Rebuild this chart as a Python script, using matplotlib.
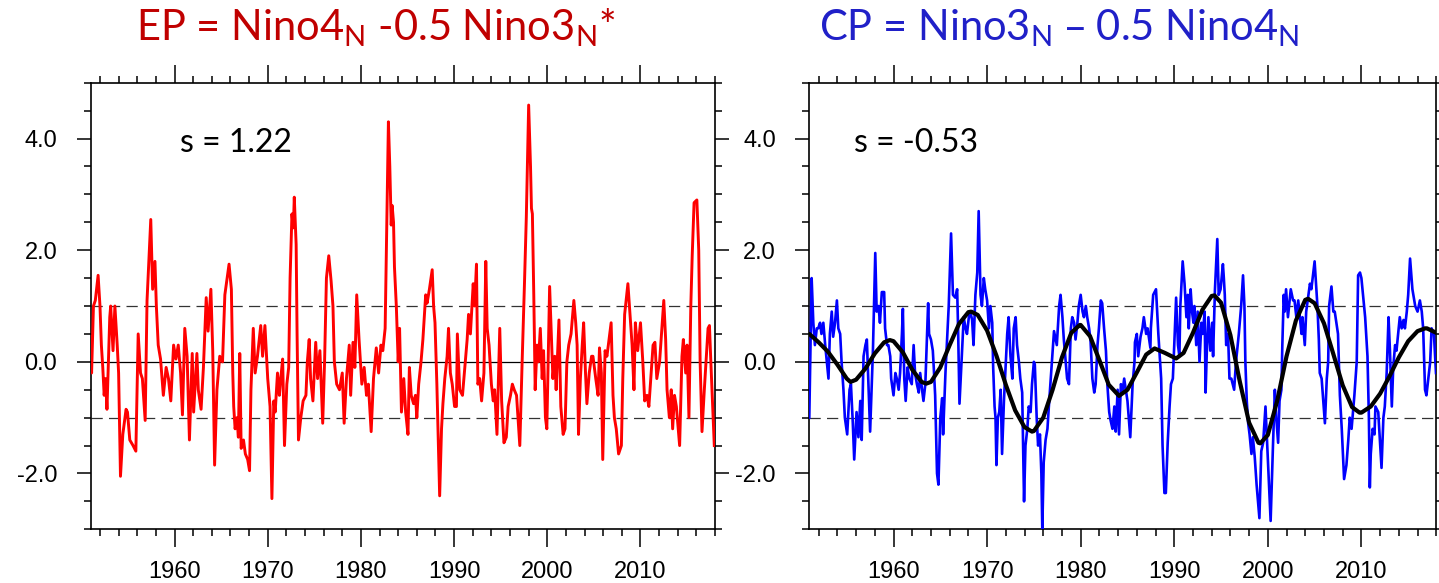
import matplotlib
matplotlib.use("Agg")
import matplotlib.pyplot as plt
from matplotlib.ticker import MultipleLocator, FormatStrFormatter

# ---------------------------------------------
# Datos (anio decimal, valor)
# ---------------------------------------------
ep_year = [
    1951.00, 1951.10, 1951.30, 1951.50, 1951.80, 1952.00, 1952.15, 1952.30, 1952.45, 1952.60,
    1952.75, 1953.05, 1953.15, 1953.40, 1953.60, 1953.85, 1954.00, 1954.20, 1954.45, 1954.80,
    1954.95, 1955.20, 1955.55, 1955.85, 1956.10, 1956.35, 1956.55, 1956.85, 1957.05, 1957.45,
    1957.65, 1957.90, 1958.05, 1958.25, 1958.50, 1958.80, 1959.10, 1959.35, 1959.60, 1959.90,
    1960.15, 1960.40, 1960.65, 1960.85, 1961.10, 1961.35, 1961.60, 1961.90, 1962.05, 1962.40,
    1962.55, 1962.85, 1963.10, 1963.40, 1963.60, 1963.90, 1964.10, 1964.30, 1964.55, 1964.85,
    1965.15, 1965.40, 1965.65, 1965.85, 1966.10, 1966.25, 1966.35, 1966.50, 1966.70, 1966.85,
    1967.00, 1967.15, 1967.40, 1967.60, 1967.85, 1968.05, 1968.20, 1968.45, 1968.65, 1968.90,
    1969.25, 1969.45, 1969.70, 1970.00, 1970.25, 1970.45, 1970.65, 1970.80, 1971.05, 1971.25,
    1971.40, 1971.60, 1971.80, 1972.05, 1972.25, 1972.40, 1972.60, 1972.75, 1972.85, 1973.05,
    1973.15, 1973.30, 1973.55, 1973.80, 1974.10, 1974.25, 1974.45, 1974.60, 1974.85, 1975.15,
    1975.35, 1975.60, 1975.90, 1976.10, 1976.30, 1976.55, 1976.80, 1977.00, 1977.15, 1977.40,
    1977.70, 1978.00, 1978.20, 1978.45, 1978.75, 1978.90, 1979.15, 1979.35, 1979.55, 1979.80,
    1980.10, 1980.35, 1980.60, 1980.80, 1981.10, 1981.35, 1981.65, 1981.90, 1982.15, 1982.35,
    1982.60, 1982.95, 1983.10, 1983.25, 1983.35, 1983.50, 1983.60, 1983.80, 1984.00, 1984.15,
    1984.35, 1984.60, 1984.80, 1985.05, 1985.20, 1985.40, 1985.65, 1985.85, 1986.00, 1986.20,
    1986.45, 1986.65, 1986.95, 1987.10, 1987.35, 1987.65, 1987.80, 1987.95, 1988.15, 1988.45,
    1988.65, 1988.80, 1989.00, 1989.25, 1989.40, 1989.60, 1989.80, 1990.05, 1990.25, 1990.35,
    1990.60, 1990.90, 1991.15, 1991.40, 1991.55, 1991.75, 1992.05, 1992.20, 1992.40, 1992.55,
    1992.75, 1992.95, 1993.20, 1993.40, 1993.55, 1993.75, 1994.00, 1994.20, 1994.35, 1994.60,
    1994.80, 1994.90, 1995.10, 1995.35, 1995.60, 1995.80, 1996.05, 1996.25, 1996.45, 1996.70,
    1996.90, 1997.05, 1997.30, 1997.55, 1997.75, 1998.00, 1998.20, 1998.30, 1998.40, 1998.55,
    1998.70, 1998.90, 1999.05, 1999.25, 1999.45, 1999.60, 1999.80, 1999.95, 2000.25, 2000.45,
    2000.60, 2000.80, 2000.95, 2001.25, 2001.45, 2001.70, 2001.90, 2002.10, 2002.30, 2002.55,
    2002.85, 2003.05, 2003.20, 2003.35, 2003.55, 2003.75, 2003.90, 2004.10, 2004.25, 2004.50,
    2004.75, 2004.90, 2005.20, 2005.45, 2005.60, 2005.80, 2005.95, 2006.20, 2006.40, 2006.70,
    2006.85, 2007.05, 2007.20, 2007.40, 2007.65, 2007.95, 2008.10, 2008.30, 2008.65, 2008.90,
    2009.10, 2009.30, 2009.45, 2009.70, 2010.00, 2010.25, 2010.45, 2010.70, 2010.90, 2011.15,
    2011.35, 2011.55, 2011.75, 2012.05, 2012.25, 2012.50, 2012.70, 2012.85, 2013.10, 2013.30,
    2013.45, 2013.65, 2013.85, 2014.20, 2014.45, 2014.60, 2014.85, 2015.00, 2015.20, 2015.40,
    2015.55, 2015.75, 2016.05, 2016.25, 2016.40, 2016.60, 2016.85, 2017.10, 2017.25, 2017.40,
    2017.55, 2017.75, 2017.92,
]
ep_val = [
    0.45, -0.2, 1.0, 1.1, 1.55, 1.0, 0.3, -0.1, -0.6, -0.3,
    -0.85, 0.8, 1.0, 0.2, 1.0, 0.3, -0.2, -2.05, -1.3, -0.85,
    -0.9, -1.4, -1.5, -1.6, 0.5, -0.2, -0.3, -1.05, 1.1, 2.55,
    1.3, 1.8, 1.0, 0.3, 0.05, -0.6, -0.1, -0.3, -0.7, 0.3,
    0.05, 0.3, -0.2, -0.95, 0.6, 0.1, -1.4, 0.15, -0.9, 0.15,
    -0.5, -0.85, -0.1, 1.15, 0.55, 1.3, 0.2, -1.85, -0.5, 0.1,
    0.0, 1.2, 1.5, 1.75, 1.3, -0.2, -0.8, -1.2, -1.0, -1.35,
    0.15, -1.55, -1.4, -1.65, -1.75, -1.95, -0.5, 0.6, -0.2, 0.1,
    0.65, 0.1, 0.65, -0.3, -0.8, -2.45, -0.7, -0.9, -0.2, -0.6,
    -0.3, 0.05, -1.5, -0.4, -0.1, 1.5, 2.65, 2.4, 2.95, 2.1,
    0.5, -1.4, -1.0, -0.7, -0.6, 0.0, 0.4, -0.3, -0.7, 0.35,
    -0.3, 0.2, -1.1, 0.0, 1.5, 1.9, 1.45, 1.0, 0.0, -0.4,
    -0.5, -0.2, -1.1, -0.3, 0.3, -0.6, 0.35, -0.1, 1.2, 0.4,
    -0.4, -0.1, -0.6, -0.4, -1.25, -0.3, 0.25, -0.2, 0.3, 0.2,
    0.6, 4.3, 3.5, 2.45, 2.8, 2.5, 1.7, 1.0, 0.0, 0.6,
    -0.9, -0.3, -0.9, -1.3, -0.1, -0.6, -0.75, -0.6, -1.0, -0.4,
    0.0, 0.4, 1.2, 1.05, 1.3, 1.65, 1.0, 0.7, -0.4, -2.4,
    -1.2, -0.75, -0.3, 0.1, 0.6, -0.2, -0.4, -0.8, -0.8, 0.5,
    -0.5, -0.6, -0.1, 0.4, 0.85, 0.5, 1.4, 1.0, 1.75, -0.4,
    -0.3, -0.7, -0.2, 1.8, 0.6, 0.3, -0.4, -0.7, -0.5, -1.3,
    0.0, 0.6, -0.7, -1.45, -1.35, -0.8, -0.6, -0.4, -0.5, -0.6,
    -1.1, -1.5, 0.0, 1.4, 2.6, 4.6, 3.5, 2.75, 2.65, 1.2,
    -0.5, 0.3, 0.0, 0.6, -0.3, 0.2, -1.0, -1.2, 1.35, 0.4,
    -0.3, 0.1, -0.5, 0.75, -0.8, -1.3, -1.2, 0.0, 0.3, 0.5,
    1.1, 0.7, 0.3, -1.3, -0.3, 0.3, 0.7, -0.2, -0.75, -0.2,
    0.1, 0.1, -0.3, -0.6, 0.25, -0.2, -1.75, 0.2, 0.1, 0.5,
    0.7, -0.6, -1.0, -1.2, -1.65, -1.5, -0.3, 0.85, 1.4, 0.8,
    0.3, -0.5, 0.7, 0.2, 0.7, 0.0, -0.7, -0.6, -0.8, -0.2,
    0.3, 0.35, -0.3, 0.0, 0.5, 1.1, 0.4, -0.5, -1.0, -0.5,
    -1.2, -0.6, -0.8, -1.5, 0.1, 0.4, -0.2, 0.3, -1.0, 1.0,
    1.9, 2.85, 2.9, 2.0, 0.0, -1.25, -0.5, 0.2, 0.6, 0.65,
    0.0, -0.8, -1.5,
]

cp_year = [
    1951.00, 1951.25, 1951.43, 1951.60, 1951.80, 1951.95, 1952.15, 1952.30, 1952.50, 1952.70,
    1952.85, 1953.05, 1953.20, 1953.40, 1953.55, 1953.75, 1953.95, 1954.10, 1954.30, 1954.45,
    1954.65, 1954.80, 1955.05, 1955.30, 1955.45, 1955.65, 1955.80, 1956.05, 1956.25, 1956.45,
    1956.60, 1956.80, 1957.00, 1957.15, 1957.30, 1957.50, 1957.80, 1958.05, 1958.20, 1958.40,
    1958.55, 1958.75, 1959.00, 1959.10, 1959.30, 1959.45, 1959.65, 1959.75, 1960.00, 1960.20,
    1960.35, 1960.55, 1960.70, 1960.90, 1961.00, 1961.15, 1961.30, 1961.50, 1961.70, 1961.95,
    1962.15, 1962.30, 1962.50, 1962.70, 1962.85, 1963.05, 1963.20, 1963.40, 1963.55, 1963.70,
    1963.80, 1964.00, 1964.20, 1964.30, 1964.45, 1964.65, 1964.80, 1965.00, 1965.20, 1965.30,
    1965.55, 1965.70, 1965.90, 1966.15, 1966.35, 1966.60, 1966.80, 1966.90, 1967.05, 1967.30,
    1967.50, 1967.70, 1967.85, 1968.05, 1968.20, 1968.40, 1968.55, 1968.75, 1968.95, 1969.10,
    1969.30, 1969.45, 1969.65, 1969.80, 1970.00, 1970.20, 1970.35, 1970.55, 1970.65, 1970.80,
    1970.90, 1971.00, 1971.15, 1971.30, 1971.45, 1971.60, 1971.80, 1971.95, 1972.15, 1972.30,
    1972.50, 1972.70, 1972.85, 1973.05, 1973.20, 1973.40, 1973.55, 1973.75, 1973.95, 1974.10,
    1974.30, 1974.45, 1974.65, 1974.80, 1975.00, 1975.10, 1975.30, 1975.45, 1975.65, 1975.80,
    1975.90, 1976.05, 1976.25, 1976.45, 1976.60, 1976.80, 1976.95, 1977.15, 1977.45, 1977.70,
    1977.85, 1978.05, 1978.20, 1978.40, 1978.55, 1978.75, 1978.95, 1979.10, 1979.30, 1979.45,
    1979.65, 1979.80, 1980.00, 1980.20, 1980.35, 1980.55, 1980.70, 1980.90, 1981.05, 1981.25,
    1981.45, 1981.60, 1981.80, 1981.95, 1982.15, 1982.30, 1982.50, 1982.70, 1982.85, 1983.05,
    1983.20, 1983.40, 1983.60, 1983.75, 1983.95, 1984.10, 1984.30, 1984.50, 1984.65, 1985.00,
    1985.30, 1985.55, 1985.75, 1985.80, 1986.00, 1986.15, 1986.40, 1986.60, 1986.75, 1987.00,
    1987.15, 1987.45, 1987.50, 1987.75, 1988.05, 1988.30, 1988.60, 1988.75, 1988.95, 1989.10,
    1989.30, 1989.50, 1989.65, 1989.85, 1990.00, 1990.20, 1990.40, 1990.55, 1990.65, 1990.90,
    1991.10, 1991.30, 1991.45, 1991.55, 1991.75, 1991.90, 1992.05, 1992.15, 1992.35, 1992.50,
    1992.70, 1992.90, 1993.05, 1993.25, 1993.35, 1993.50, 1993.65, 1993.85, 1994.05, 1994.15,
    1994.35, 1994.60, 1994.75, 1994.95, 1995.20, 1995.30, 1995.40, 1995.55, 1995.75, 1995.90,
    1996.10, 1996.40, 1996.60, 1996.90, 1997.15, 1997.35, 1997.50, 1997.60, 1997.75, 1997.90,
    1998.05, 1998.25, 1998.40, 1998.60, 1998.80, 1999.10, 1999.30, 1999.50, 1999.75, 1999.95,
    2000.30, 2000.55, 2000.75, 2000.90, 2001.10, 2001.25, 2001.45, 2001.55, 2001.70, 2001.80,
    2001.95, 2002.15, 2002.45, 2002.70, 2002.85, 2003.05, 2003.25, 2003.60, 2003.70, 2003.95,
    2004.10, 2004.50, 2004.65, 2005.00, 2005.30, 2005.45, 2005.55, 2005.75, 2006.10, 2006.30,
    2006.45, 2006.55, 2006.80, 2007.00, 2007.15, 2007.50, 2007.70, 2007.90, 2008.15, 2008.40,
    2008.60, 2008.75, 2008.95, 2009.25, 2009.50, 2009.65, 2009.85, 2010.00, 2010.40, 2010.65,
    2010.80, 2010.90, 2011.00, 2011.20, 2011.40, 2011.50, 2011.80, 2012.15, 2012.35, 2012.50,
    2012.70, 2012.90, 2013.05, 2013.25, 2013.40, 2013.60, 2013.75, 2014.10, 2014.30, 2014.50,
    2014.65, 2014.85, 2015.00, 2015.20, 2015.45, 2015.75, 2016.00, 2016.25, 2016.45, 2016.60,
    2016.80, 2016.95, 2017.15, 2017.35, 2017.50, 2017.75, 2017.97,
]
cp_val = [
    -1.0, 1.5, 0.7, 0.3, 0.6, 0.6, 0.7, 0.5, 0.7, 0.3,
    0.05, -0.3, 0.5, 0.9, 0.45, 0.7, 1.1, 0.6, 0.5, 0.0,
    -0.5, -1.0, -1.3, -0.5, -0.4, -1.1, -1.75, -0.9, -1.35, -0.7,
    -1.4, 0.1, 0.3, 0.4, -0.3, -1.25, 0.2, 1.95, 0.9, 1.0,
    0.7, 1.25, 1.25, 0.6, 0.3, 0.3, 0.1, -0.3, -0.6, -0.2,
    -0.3, -0.5, -0.2, 0.5, 0.95, -0.3, -0.7, -0.1, -0.3, -0.4,
    0.3, -0.2, -0.4, -0.55, -0.2, -0.5, -0.7, -0.4, 0.3, 1.05,
    0.5, 0.4, 0.2, -0.1, -0.6, -2.0, -2.2, -1.0, -0.65, -1.3,
    -0.2, 0.3, 1.0, 2.3, 1.2, 1.15, 1.3, 0.6, -0.75, 0.1,
    0.8, 0.6, 0.5, 0.8, 0.9, 0.75, 0.3, 1.2, 1.6, 2.7,
    1.2, 1.0, 1.5, 1.3, 1.1, 0.6, 1.0, 0.7, -0.1, -0.8,
    -1.0, -1.85, -1.0, -0.9, -0.5, -1.65, -0.7, -0.2, 0.5, 0.8,
    0.1, -0.3, 0.6, 0.8, 0.3, 0.0, -0.3, -0.55, -2.5, -1.5,
    -1.2, -0.8, -0.9, -0.4, 0.0, -0.05, -1.0, -1.5, -1.3, -2.0,
    -3.0, -1.8, -1.4, -1.2, -0.8, -0.3, 0.1, 0.55, 0.3, 1.0,
    1.2, 0.8, 0.4, 0.0, -0.3, -0.4, 0.6, 0.8, 0.7, 0.4,
    0.7, 1.0, 1.2, 0.9, 0.8, 1.0, 0.8, 0.6, 0.4, -0.3,
    -0.55, -0.4, 0.3, 0.6, 1.1, 1.05, 0.6, 0.2, -0.4, -0.9,
    -1.05, -1.2, -0.8, -1.25, -0.5, -1.3, -0.4, -0.5, -0.3, -0.7,
    -1.35, -0.4, 0.0, 0.35, 0.5, 0.1, 0.45, 0.6, 0.8, 0.5,
    0.6, 0.25, 0.6, 1.2, 1.3, 0.5, -0.3, -1.5, -2.35, -2.35,
    -1.45, -0.8, -0.4, -0.3, 0.3, 1.15, 0.3, 0.1, 1.0, 1.8,
    1.4, 0.8, 1.2, 0.6, 1.3, 0.9, 0.7, 1.0, 0.3, 0.9,
    0.0, 0.7, 0.5, 0.9, -0.55, 0.3, 0.8, 0.2, 0.7, 0.1,
    1.3, 2.2, 1.2, 1.3, 1.75, 1.5, 1.2, 0.3, 0.5, -0.3,
    -0.3, -0.5, 0.0, 0.5, 1.0, 1.55, 1.0, 0.0, -0.7, -1.1,
    -1.3, -1.65, -1.35, -1.7, -2.2, -2.8, -1.6, -1.45, -0.8, -1.55,
    -2.85, -1.5, -0.5, -1.0, -1.45, -0.7, -0.5, 0.3, 1.2, 0.9,
    1.3, 0.8, 1.3, 1.1, 1.1, 0.8, 1.1, 0.5, 0.8, 0.3,
    0.9, 1.4, 1.3, 1.8, 1.0, 0.4, -0.2, -0.3, -1.1, -0.3,
    0.0, 1.0, 1.35, 0.9, 0.9, 0.5, -0.6, -1.2, -2.1, -1.85,
    -1.4, -1.0, -1.2, -0.6, 0.0, 1.55, 1.6, 1.5, 0.8, 0.1,
    -1.0, -2.25, -1.65, -1.2, -1.3, -0.8, -0.9, -1.9, -1.0, -0.8,
    -0.2, 0.8, 0.2, -0.8, -0.1, 0.3, 0.2, 0.8, 0.6, 0.75,
    0.6, 0.9, 1.2, 1.85, 1.3, 1.0, 0.9, 1.1, 0.9, 0.6,
    -0.5, -0.6, -0.3, 0.0, 0.6, 0.5, -0.2,
]

# curva suavizada (negra) del panel CP
lp_year = [
    1951.0, 1952.0, 1953.0, 1954.0, 1955.0, 1955.4, 1956.0, 1957.0, 1958.0, 1959.0,
    1959.6, 1960.0, 1961.0, 1962.0, 1963.0, 1963.5, 1964.0, 1965.0, 1966.0, 1967.0,
    1968.0, 1968.3, 1969.0, 1970.0, 1971.0, 1972.0, 1973.0, 1974.0, 1974.8, 1975.0,
    1976.0, 1977.0, 1978.0, 1979.0, 1979.9, 1980.0, 1981.0, 1982.0, 1983.0, 1984.1,
    1985.0, 1986.0, 1987.0, 1987.9, 1989.0, 1990.2, 1991.0, 1992.0, 1993.0, 1994.0,
    1994.3, 1995.0, 1996.0, 1997.0, 1998.0, 1999.0, 1999.2, 2000.0, 2001.0, 2002.0,
    2003.0, 2004.0, 2004.3, 2005.0, 2006.0, 2007.0, 2008.0, 2009.0, 2009.8, 2010.0,
    2011.0, 2012.0, 2013.0, 2014.0, 2015.0, 2016.0, 2016.8, 2017.0, 2018.0,
]
lp_val = [
    0.50, 0.35, 0.18, -0.05, -0.30, -0.36, -0.32, -0.12, 0.15, 0.35,
    0.39, 0.37, 0.17, -0.14, -0.36, -0.39, -0.36, -0.10, 0.30, 0.68,
    0.89, 0.90, 0.84, 0.56, 0.11, -0.41, -0.87, -1.17, -1.25, -1.24,
    -1.00, -0.50, 0.08, 0.52, 0.66, 0.66, 0.46, 0.03, -0.41, -0.61,
    -0.50, -0.19, 0.13, 0.24, 0.16, 0.06, 0.16, 0.52, 0.93, 1.18,
    1.19, 1.06, 0.48, -0.35, -1.09, -1.45, -1.46, -1.31, -0.70, 0.10,
    0.74, 1.11, 1.13, 1.05, 0.69, 0.14, -0.42, -0.81, -0.91, -0.91,
    -0.80, -0.57, -0.26, 0.08, 0.37, 0.55, 0.60, 0.60, 0.52,
]

ep_title = r"EP = Nino4$_\mathregular{N}$ -0.5 Nino3$_\mathregular{N}$*"
cp_title = r"CP = Nino3$_\mathregular{N}$ – 0.5 Nino4$_\mathregular{N}$"
ep_s = "s = 1.22"
cp_s = "s = -0.53"

# ---------------------------------------------
# Figura
# ---------------------------------------------
plt.rcParams['font.family'] = ['Liberation Sans', 'DejaVu Sans']

fig = plt.figure(figsize=(14.39, 5.83), dpi=100)
ax_ep = fig.add_axes([0.0630, 0.0921, 0.4339, 0.766])
ax_cp = fig.add_axes([0.5624, 0.0921, 0.4357, 0.766])


def estilo_panel(ax):
    ax.set_xlim(1951, 2018)
    ax.set_ylim(-3, 5)
    ax.xaxis.set_major_locator(MultipleLocator(10))
    ax.xaxis.set_minor_locator(MultipleLocator(2))
    ax.yaxis.set_major_locator(MultipleLocator(2))
    ax.yaxis.set_minor_locator(MultipleLocator(0.5))
    ax.yaxis.set_major_formatter(FormatStrFormatter('%.1f'))
    ax.tick_params(which='both', direction='out', top=True, right=True,
                   width=1.1, labelsize=17)
    ax.tick_params(which='major', length=10)
    ax.tick_params(which='minor', length=5)
    ax.tick_params(axis='x', which='major', length=13, pad=10)
    ax.tick_params(axis='y', which='major', pad=14)
    for sp in ax.spines.values():
        sp.set_linewidth(1.2)
    ax.axhline(0, color='black', lw=0.9, zorder=1)
    ax.axhline(1, color='#333333', lw=0.9, ls=(0, (9, 5)), zorder=1)
    ax.axhline(-1, color='#333333', lw=0.9, ls=(0, (9, 5)), zorder=1)


estilo_panel(ax_ep)
estilo_panel(ax_cp)

ax_ep.plot(ep_year, ep_val, color='#ff0000', lw=2.1, zorder=3)
ax_cp.plot(cp_year, cp_val, color='#0000ff', lw=1.9, zorder=3)
ax_cp.plot(lp_year, lp_val, color='black', lw=3.0, zorder=4,
           solid_joinstyle='round', solid_capstyle='round')

ax_ep.text(0.143, 0.865, ep_s, transform=ax_ep.transAxes, family='Lato',
           fontsize=23, va='center', ha='left')
ax_cp.text(0.0714, 0.865, cp_s, transform=ax_cp.transAxes, family='Lato',
           fontsize=23, va='center', ha='left')

fig.text(0.0945, 0.9305, ep_title, color='#c00000', family='Lato',
         fontsize=30, va='baseline', ha='left')
fig.text(0.569, 0.9305, cp_title, color='#2020c8', family='Lato',
         fontsize=30, va='baseline', ha='left')

fig.savefig('out.png', dpi=100)
